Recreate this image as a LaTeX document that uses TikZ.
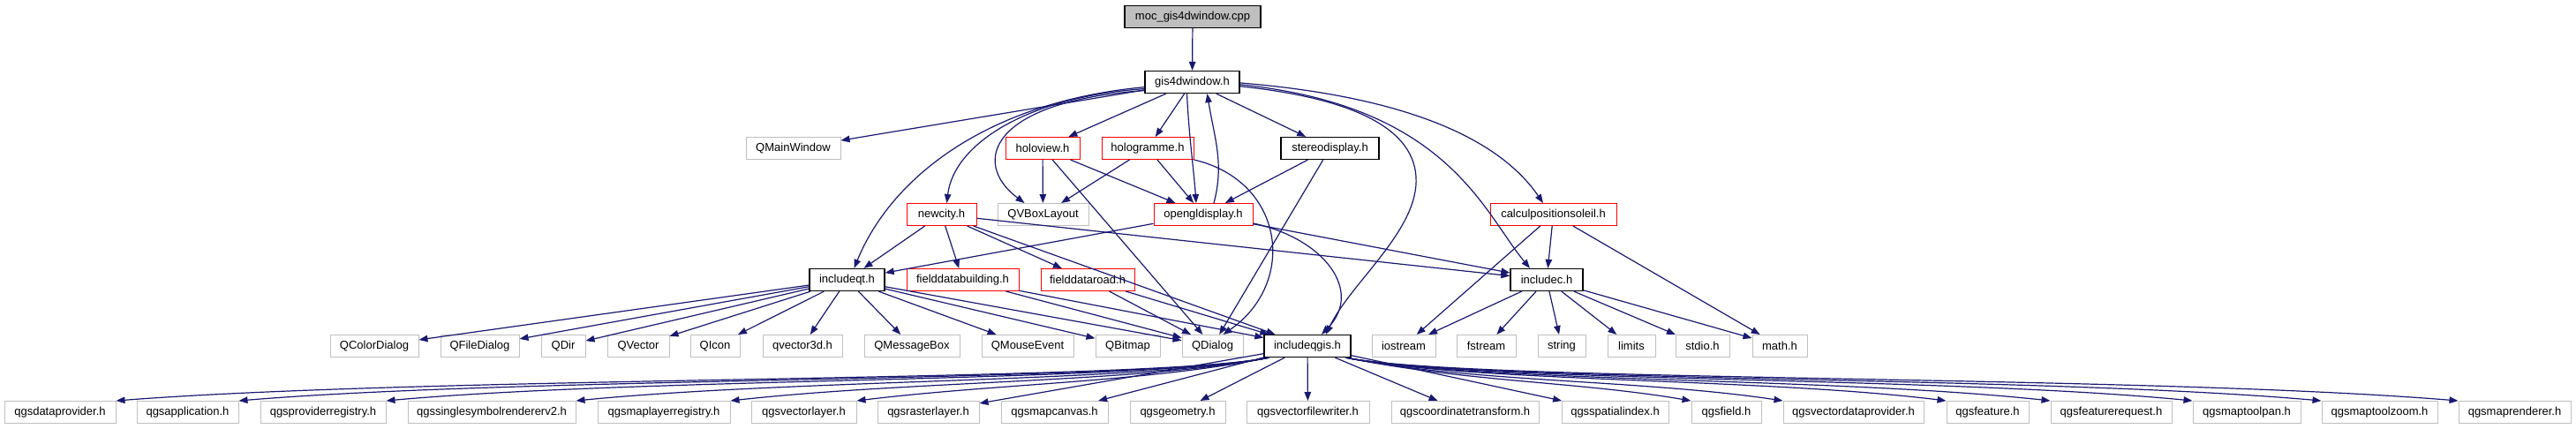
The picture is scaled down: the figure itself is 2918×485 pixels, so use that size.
\documentclass[tikz,border=0pt]{standalone}
\usepackage{fontspec}
\setmainfont{Liberation Sans}
\usetikzlibrary{arrows.meta}
\definecolor{edgeblue}{HTML}{191970}
\definecolor{boxgray}{HTML}{BFBFBF}
\tikzset{
  box/.style={draw, line width=1pt, minimum height=25pt, inner sep=0pt, text=black, font=\fontsize{13}{15}\selectfont},
  doc/.style={box, draw=black, line width=1.3pt},
  trunc/.style={box, draw=red},
  ext/.style={box, draw=boxgray},
  dep/.style={color=edgeblue, line width=1.2pt, -{Triangle[length=10pt,width=7.5pt]}}
}
\begin{document}
\begin{tikzpicture}[x=1pt,y=-1pt]
\useasboundingbox (0,0) rectangle (2918,485);
% row 0
\node[doc, fill=boxgray, minimum width=154pt] (moc) at (1351,19) {moc\_gis4dwindow.cpp};
% row 1
\node[doc, minimum width=107pt] (gis) at (1350.5,93) {gis4dwindow.h};
% row 2
\node[ext, minimum width=107pt] (qmw) at (898.5,168) {QMainWindow};
\node[trunc, minimum width=84pt] (hv) at (1181,168) {holoview.h};
\node[trunc, minimum width=104pt] (hg) at (1300,168) {hologramme.h};
\node[doc, minimum width=111pt] (sd) at (1506.5,168) {stereodisplay.h};
% row 3
\node[trunc, minimum width=79pt] (nc) at (1066.5,243) {newcity.h};
\node[ext, minimum width=103pt] (qvb) at (1181.5,243) {QVBoxLayout};
\node[trunc, minimum width=112pt] (ogl) at (1363,243) {opengldisplay.h};
\node[trunc, minimum width=143pt] (cps) at (1759.5,243) {calculpositionsoleil.h};
% row 4
\node[doc, minimum width=85pt] (iqt) at (959.5,317) {includeqt.h};
\node[trunc, minimum width=127pt] (fdb) at (1090.5,317) {fielddatabuilding.h};
\node[trunc, minimum width=106pt] (fdr) at (1232,317) {fielddataroad.h};
\node[doc, minimum width=82pt] (ic) at (1752,317) {includec.h};
% row 5
\node[ext, minimum width=100pt] (qcd) at (424,392) {QColorDialog};
\node[ext, minimum width=89pt] (qfd) at (543.5,392) {QFileDialog};
\node[ext, minimum width=50pt] (qdir) at (638,392) {QDir};
\node[ext, minimum width=70pt] (qvec) at (723,392) {QVector};
\node[ext, minimum width=56pt] (qicon) at (810,392) {QIcon};
\node[ext, minimum width=90pt] (qv3) at (909,392) {qvector3d.h};
\node[ext, minimum width=108pt] (qmb) at (1033,392) {QMessageBox};
\node[ext, minimum width=104pt] (qme) at (1164,392) {QMouseEvent};
\node[ext, minimum width=73pt] (qbm) at (1277.5,392) {QBitmap};
\node[ext, minimum width=69pt] (qd) at (1373.5,392) {QDialog};
\node[doc, minimum width=98pt] (iqg) at (1481,392) {includeqgis.h};
\node[ext, minimum width=72pt] (ios) at (1590,392) {iostream};
\node[ext, minimum width=67pt] (fst) at (1683.5,392) {fstream};
\node[ext, minimum width=54pt] (str) at (1769,392) {string};
\node[ext, minimum width=54pt] (lim) at (1848,392) {limits};
\node[ext, minimum width=61pt] (sto) at (1928.5,392) {stdio.h};
\node[ext, minimum width=62pt] (mth) at (2016,392) {math.h};
% row 6
\node[ext, minimum width=126pt] (g1) at (68,467) {qgsdataprovider.h};
\node[ext, minimum width=115pt] (g2) at (212.5,467) {qgsapplication.h};
\node[ext, minimum width=142pt] (g3) at (366,467) {qgsproviderregistry.h};
\node[ext, minimum width=190pt] (g4) at (557,467) {qgssinglesymbolrendererv2.h};
\node[ext, minimum width=150pt] (g5) at (752,467) {qgsmaplayerregistry.h};
\node[ext, minimum width=119pt] (g6) at (910.5,467) {qgsvectorlayer.h};
\node[ext, minimum width=115pt] (g7) at (1051.5,467) {qgsrasterlayer.h};
\node[ext, minimum width=121pt] (g8) at (1194.5,467) {qgsmapcanvas.h};
\node[ext, minimum width=108pt] (g9) at (1334,467) {qgsgeometry.h};
\node[ext, minimum width=139pt] (g10) at (1481.5,467) {qgsvectorfilewriter.h};
\node[ext, minimum width=167pt] (g11) at (1659.5,467) {qgscoordinatetransform.h};
\node[ext, minimum width=121pt] (g12) at (1829.5,467) {qgsspatialindex.h};
\node[ext, minimum width=79pt] (g13) at (1955.5,467) {qgsfield.h};
\node[ext, minimum width=159pt] (g14) at (2099.5,467) {qgsvectordataprovider.h};
\node[ext, minimum width=93pt] (g15) at (2251.5,467) {qgsfeature.h};
\node[ext, minimum width=137pt] (g16) at (2391.5,467) {qgsfeaturerequest.h};
\node[ext, minimum width=122pt] (g17) at (2545,467) {qgsmaptoolpan.h};
\node[ext, minimum width=131pt] (g18) at (2695.5,467) {qgsmaptoolzoom.h};
\node[ext, minimum width=127pt] (g19) at (2848.5,467) {qgsmaprenderer.h};

% edges
\draw[dep] (moc) -- (gis);
\draw[dep] (gis) -- (qmw);
\draw[dep] (gis) -- (hv);
\draw[dep] (gis) -- (hg);
\draw[dep] (gis) -- (sd);
\draw[dep] ([xshift=-6pt]gis.south) .. controls +(2,45) and +(-3,-40) .. ([xshift=-8pt]ogl.north);
\draw[dep] ([xshift=12pt]ogl.north) .. controls +(12,-45) and +(8,50) .. ([xshift=17pt]gis.south);
\draw[dep] (gis.190) .. controls (1120,115) and (1100,185) .. ([xshift=-21pt]qvb.north);
\draw[dep] (gis.188) .. controls (1160,110) and (1080,165) .. ([xshift=6pt]nc.north);
\draw[dep] (gis.186) .. controls (1120,115) and (1010,200) .. ([xshift=8pt]iqt.north);
\draw[dep] (gis.-5) .. controls (1520,110) and (1600,140) .. (1604,200) .. controls (1608,260) and (1530,320) .. ([xshift=21pt]iqg.north);
\draw[dep] (gis.-3) .. controls (1640,120) and (1680,240) .. ([xshift=-19pt]ic.north);
\draw[dep] (gis.-1) .. controls (1600,110) and (1700,160) .. ([xshift=-11.5pt]cps.north);

\draw[dep] (hv) -- (qvb);
\draw[dep] (hv) -- (ogl);
\draw[dep] (hv) -- (qd);
\draw[dep] (hg) -- (qvb);
\draw[dep] (hg) -- (ogl);
\draw[dep] (hg.south east) .. controls (1455,205) and (1470,320) .. ([xshift=12pt]qd.north);
\draw[dep] (sd) -- (ogl);
\draw[dep] (sd) -- (qd);

\draw[dep] (nc) -- (iqt);
\draw[dep] (nc) -- (fdb);
\draw[dep] (nc) -- (fdr);
\draw[dep] (nc) -- (iqg);
\draw[dep] (nc) -- (ic);

\draw[dep] (ogl) -- (iqt);
\draw[dep] (ogl) -- (ic);
\draw[dep] (ogl.-10) .. controls (1500,270) and (1545,330) .. ([xshift=16pt]iqg.north);

\draw[dep] (cps) -- (ic);
\draw[dep] (cps) -- (ios);
\draw[dep] (cps) -- (mth);

\foreach \t in {qcd,qfd,qdir,qvec,qicon,qv3,qmb,qme,qbm,qd}
  \draw[dep] (iqt) -- (\t);
\draw[dep] (fdb) -- (qd);
\draw[dep] (fdb) -- (iqg);
\draw[dep] (fdr) -- (qd);
\draw[dep] (fdr) -- (iqg);
\foreach \t in {ios,fst,str,lim,sto,mth}
  \draw[dep] (ic) -- (\t);

% includeqgis -> bottom row
\draw[dep] ([xshift=6pt]iqg.south west) .. controls +(-140,28) and +(369,-28.5) .. (g1.north east);
\draw[dep] ([xshift=6pt]iqg.south west) .. controls +(-140,28) and +(330,-27.5) .. (g2.north east);
\draw[dep] ([xshift=6pt]iqg.south west) .. controls +(-140,28) and +(293,-26.5) .. (g3.north east);
\draw[dep] ([xshift=6pt]iqg.south west) .. controls +(-140,28) and +(248,-24.5) .. (g4.north east);
\draw[dep] ([xshift=6pt]iqg.south west) .. controls +(-140,28) and +(203,-22.5) .. (g5.north east);
\draw[dep] ([xshift=6pt]iqg.south west) .. controls +(-140,28) and +(160,-19.5) .. (g6.north east);
\foreach \t in {g7,g8,g9,g10,g11,g12}
  \draw[dep] (iqg) -- (\t);
\draw[dep] ([xshift=-6pt]iqg.south east) .. controls +(140,28) and +(-130,-22) .. (g13.north west);
\draw[dep] ([xshift=-6pt]iqg.south east) .. controls +(140,28) and +(-160,-24) .. (g14.north west);
\draw[dep] ([xshift=-6pt]iqg.south east) .. controls +(140,28) and +(-210,-26) .. (g15.north west);
\draw[dep] ([xshift=-6pt]iqg.south east) .. controls +(140,28) and +(-250,-27) .. (g16.north west);
\draw[dep] ([xshift=-6pt]iqg.south east) .. controls +(140,28) and +(-290,-28) .. (g17.north west);
\draw[dep] ([xshift=-6pt]iqg.south east) .. controls +(140,28) and +(-330,-29) .. (g18.north west);
\draw[dep] ([xshift=-6pt]iqg.south east) .. controls +(140,28) and +(-370,-30) .. (g19.north west);
\end{tikzpicture}
\end{document}
